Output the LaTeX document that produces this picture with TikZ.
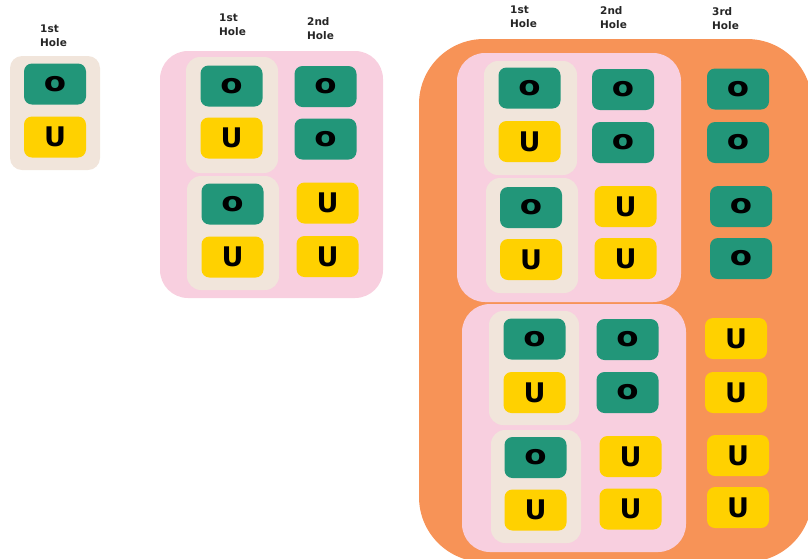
\documentclass[tikz,border=0pt]{standalone}
\usepackage{fontspec}
\setmainfont{DejaVu Sans}
\definecolor{tealtile}{HTML}{229679}
\definecolor{goldtile}{HTML}{FFD100}
\definecolor{sandbox}{HTML}{F1E5DB}
\definecolor{pinkbox}{HTML}{F8CFDF}
\definecolor{orangebox}{HTML}{F79357}
\begin{document}
\begin{tikzpicture}[x=1pt, y=-1pt,
  every node/.style={inner sep=0pt, font=\bfseries},
  tile/.style={rounded corners=8pt, minimum width=62pt, minimum height=41pt, font=\fontsize{27}{27}\selectfont\bfseries},
  otile/.style={tile, fill=tealtile},
  utile/.style={tile, fill=goldtile},
  hole/.style={anchor=north west, align=left, font=\fontsize{10.5}{14}\selectfont\bfseries, text=black!85}]
  \useasboundingbox (0,0) rectangle (808,558);
  \clip (0,0) rectangle (808,558);
  % panel 1: one hole
  \fill[sandbox, rounded corners=12pt] (10,56) rectangle (100,170);
  \node[hole] (h11) at (40,25) {1st\\Hole};
  \node[otile] (a1) at (55,84) {\scalebox{1.2}[1]{o}};
  \node[utile] (a2) at (55,137) {U};
  % panel 2: two holes
  \fill[pinkbox, rounded corners=28pt] (160,51) rectangle (383,298);
  \fill[sandbox, rounded corners=14pt] (186,57) rectangle (278,173);
  \fill[sandbox, rounded corners=14pt] (187,176) rectangle (279,290);
  \node[hole] (h21) at (219,14) {1st\\Hole};
  \node[hole] (h22) at (307,17) {2nd\\Hole};
  \node[otile] (b1) at (231.5,86) {\scalebox{1.2}[1]{o}};
  \node[utile] (b2) at (231.5,138) {U};
  \node[otile] (b3) at (232.5,204) {\scalebox{1.2}[1]{o}};
  \node[utile] (b4) at (232.5,257) {U};
  \node[otile] (b5) at (325.5,86.5) {\scalebox{1.2}[1]{o}};
  \node[otile] (b6) at (325.5,139) {\scalebox{1.2}[1]{o}};
  \node[utile] (b7) at (327.5,203) {U};
  \node[utile] (b8) at (327.5,256.5) {U};
  % panel 3: three holes
  \fill[orangebox, rounded corners=65pt] (419,39) rectangle (812,562);
  \fill[pinkbox, rounded corners=28pt] (457,53) rectangle (681,302);
  \fill[sandbox, rounded corners=14pt] (484,61) rectangle (577,175);
  \fill[sandbox, rounded corners=14pt] (486,178) rectangle (578,293);
  \fill[pinkbox, rounded corners=28pt] (462,304) rectangle (686,552);
  \fill[sandbox, rounded corners=14pt] (489,311) rectangle (579,425);
  \fill[sandbox, rounded corners=14pt] (491,430) rectangle (581,543);
  \node[hole] (h31) at (510,6) {1st\\Hole};
  \node[hole] (h32) at (600,6) {2nd\\Hole};
  \node[hole] (h33) at (712,7) {3rd\\Hole};
  \node[otile] (c1) at (529.5,88) {\scalebox{1.2}[1]{o}};
  \node[utile] (c2) at (529.5,141.5) {U};
  \node[otile] (c3) at (531,207.5) {\scalebox{1.2}[1]{o}};
  \node[utile] (c4) at (531,259.5) {U};
  \node[otile] (c5) at (623,89.5) {\scalebox{1.2}[1]{o}};
  \node[otile] (c6) at (623,142.5) {\scalebox{1.2}[1]{o}};
  \node[utile] (c7) at (625.5,206.5) {U};
  \node[utile] (c8) at (625.5,258.5) {U};
  \node[otile] (c9) at (738,89) {\scalebox{1.2}[1]{o}};
  \node[otile] (c10) at (738,142.5) {\scalebox{1.2}[1]{o}};
  \node[otile] (c11) at (741,206.5) {\scalebox{1.2}[1]{o}};
  \node[otile] (c12) at (741,258.5) {\scalebox{1.2}[1]{o}};
  \node[otile] (d1) at (534.5,339) {\scalebox{1.2}[1]{o}};
  \node[utile] (d2) at (534.5,392.5) {U};
  \node[otile] (d3) at (535.5,457.5) {\scalebox{1.2}[1]{o}};
  \node[utile] (d4) at (535.5,510) {U};
  \node[otile] (d5) at (627.5,339.5) {\scalebox{1.2}[1]{o}};
  \node[otile] (d6) at (627.5,392.5) {\scalebox{1.2}[1]{o}};
  \node[utile] (d7) at (630.5,456.5) {U};
  \node[utile] (d8) at (630.5,509) {U};
  \node[utile] (d9) at (736,338.5) {U};
  \node[utile] (d10) at (736,392.5) {U};
  \node[utile] (d11) at (738,455.5) {U};
  \node[utile] (d12) at (738,507.5) {U};
\end{tikzpicture}
\end{document}
